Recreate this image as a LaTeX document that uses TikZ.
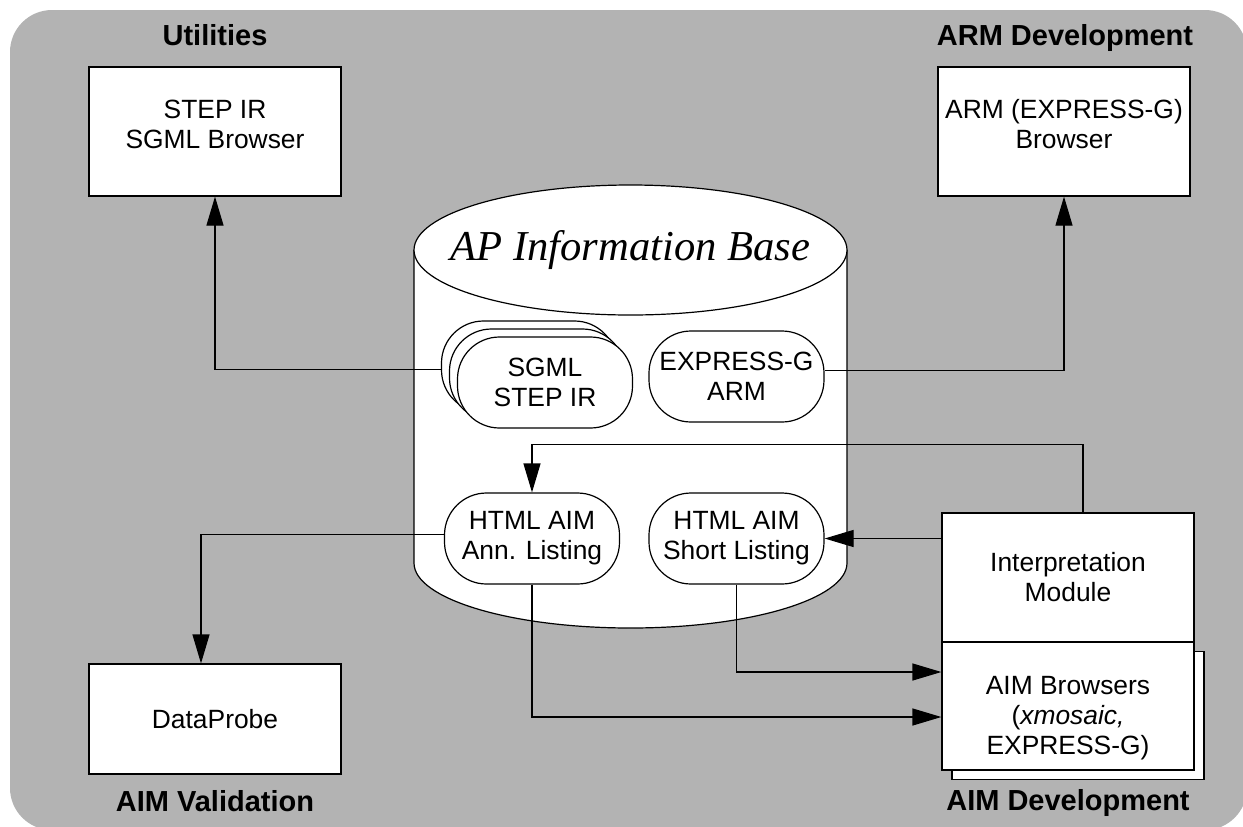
\documentclass[tikz,border=0pt]{standalone}
\usepackage{fontspec}
\setmainfont{Liberation Sans}
\newfontfamily\serifrm{Liberation Serif}
\usepackage{tikz}
\usetikzlibrary{arrows.meta,positioning,calc}
\definecolor{bggray}{RGB}{179,179,179}
\newcommand{\boxfont}{\fontsize{13.2pt}{15pt}\selectfont}
\newcommand{\headfont}{\fontsize{14.5pt}{17pt}\selectfont\bfseries}

\begin{document}
\begin{tikzpicture}[x=0.5pt,y=-0.5pt,
    browser/.style={draw, fill=white, line width=0.6pt, minimum width=126pt, minimum height=64.5pt, inner sep=0pt},
    store/.style={draw, fill=white, line width=0.6pt, rounded corners=21pt, minimum width=87.5pt, minimum height=45.5pt, inner sep=0pt, align=center, font=\boxfont},
    flow/.style={line width=0.6pt, -{Triangle[length=14.5pt,width=8.5pt]}}]
    \useasboundingbox (0,0) rectangle (1243,826);
    \fill[bggray, rounded corners=21pt] (10,10) rectangle (1247,830);
    % group titles
    \node[font=\headfont, anchor=base] (util) at (215,45) {Utilities};
    \node[font=\headfont, anchor=base] (armdev) at (1065,45) {ARM Development};
    \node[font=\headfont, anchor=base] (aimval) at (215,811) {AIM Validation};
    \node[font=\headfont, anchor=base] (aimdev) at (1068,810) {AIM Development};
    % tool boxes
    \node[browser] (sgmlbr) at (215,131.5) {};
    \node[font=\boxfont, align=center] (sgmlbrtxt) at (215,124) {STEP IR\\SGML Browser};
    \node[browser] (armbr) at (1064,131.5) {};
    \node[font=\boxfont, align=center] (armbrtxt) at (1064,124) {ARM (EXPRESS-G)\\Browser};
    \node[browser, minimum height=55pt, font=\boxfont] (dprobe) at (215,719) {DataProbe};
    \node[browser, font=\boxfont, align=center] (interp) at (1068,577.5) {Interpretation\\Module};
    \node[browser, minimum height=64pt] (aimshadow) at (1078,715.5) {};
    \node[browser, minimum height=64pt] (aimbr) at (1068,706) {};
    \node[font=\boxfont, align=center] (aimbrtxt) at (1068,718) {AIM Browsers\\(\textit{xmosaic,}\\EXPRESS-G)};
    % information base
    \filldraw[fill=white, line width=0.6pt] (414,250) -- (414,563)
        arc[start angle=180, end angle=0, x radius=216.5, y radius=65] -- (847,250);
    \filldraw[fill=white, line width=0.6pt] (630.5,250) ellipse[x radius=216.5, y radius=65];
    \node[font=\serifrm\itshape\fontsize{21.3pt}{24pt}\selectfont] (apbase) at (630.5,250) {AP Information Base};
    \node[store] (sgmlb) at (529,366.5) {};
    \node[store] (sgmlm) at (537,374.5) {};
    \node[store] (sgml) at (545,382.5) {SGML\\STEP IR};
    \node[store] (expg) at (736.5,376.5) {EXPRESS-G\\ARM};
    \node[store] (annl) at (532,538.5) {HTML AIM\\Ann. Listing};
    \node[store] (shortl) at (736.5,538.5) {HTML AIM\\Short Listing};
    % connectors
    \draw[flow] ([yshift=-1.5pt]sgmlb.west) -| (sgmlbr.south);
    \draw[flow] ([yshift=3pt]expg.east) -| (armbr.south);
    \draw[flow] ([xshift=7.5pt]interp.north) |- ([yshift=24pt]annl.north) -- (annl.north);
    \draw[flow] (shortl.east -| interp.west) -- (shortl.east);
    \draw[flow] ([yshift=2pt]annl.west) -| ([xshift=-7pt]dprobe.north);
    \draw[flow] (annl.south) |- ([yshift=-5.5pt]aimbr.west);
    \draw[flow] (shortl.south) |- ([yshift=17pt]aimbr.west);
  \end{tikzpicture}
\end{document}
